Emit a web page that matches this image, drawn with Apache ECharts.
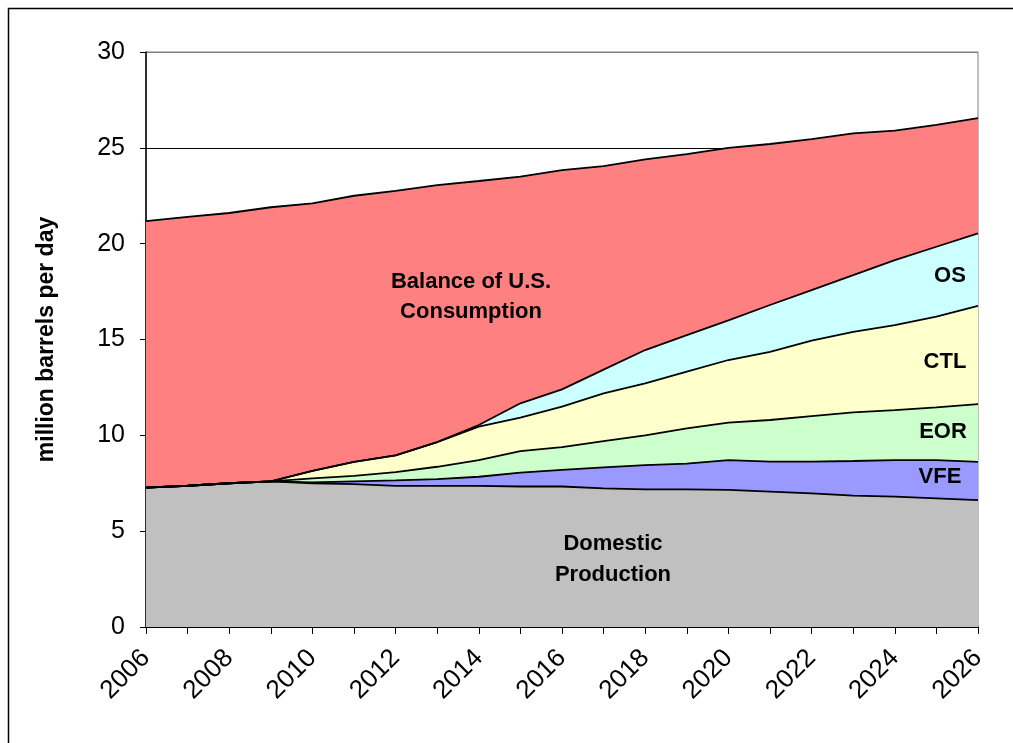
<!DOCTYPE html>
<html>
<head>
<meta charset="utf-8">
<script src="https://cdn.jsdelivr.net/npm/echarts@6/dist/echarts.min.js"></script>
<style>
html,body{margin:0;padding:0;background:#fff;}
#c{width:1013px;height:743px;}
</style>
</head>
<body>
<div id="c"></div>
<script>
const years = ['2006','2007','2008','2009','2010','2011','2012','2013','2014','2015','2016','2017','2018','2019','2020','2021','2022','2023','2024','2025','2026'];
const domestic = [7.27,7.37,7.5,7.6,7.5,7.45,7.36,7.36,7.36,7.33,7.33,7.23,7.18,7.18,7.15,7.06,6.97,6.85,6.8,6.71,6.62];
const vfe      = [0,0,0,0,0.05,0.15,0.29,0.36,0.48,0.72,0.87,1.1,1.27,1.34,1.56,1.57,1.66,1.81,1.91,2.0,2.0];
const eor      = [0,0,0,0,0.2,0.28,0.43,0.64,0.87,1.13,1.18,1.37,1.55,1.84,1.95,2.17,2.37,2.54,2.61,2.75,3.01];
const ctl      = [0,0,0,0,0.4,0.74,0.87,1.29,1.74,1.74,2.12,2.49,2.71,2.96,3.27,3.56,3.94,4.2,4.43,4.73,5.12];
const os       = [0,0,0,0,0,0,0,0,0.09,0.75,0.9,1.24,1.74,1.91,2.07,2.44,2.64,2.96,3.39,3.65,3.79];
const balance  = [13.91,14.03,14.1,14.3,13.95,13.88,13.8,13.4,12.73,11.83,11.44,10.62,9.95,9.44,9.0,8.4,7.87,7.39,6.76,6.36,6.01];
const yTicks = [0,5,10,15,20,25,30];

const FONT = '"Liberation Sans", Arial, sans-serif';
function areaSeries(name, data, color){
  return {
    name, type:'line', stack:'total', data, symbol:'none', smooth:false,
    lineStyle:{color:'#000', width:1.8},
    areaStyle:{color, opacity:1},
    itemStyle:{color},
    emphasis:{disabled:true}
  };
}
function label(text, x, y){
  return {type:'text', x, y, z:100, silent:true,
    style:{text, fontFamily:FONT, fontSize:22, fontWeight:'bold', fill:'#000', align:'center', verticalAlign:'middle'}};
}
const chart = echarts.init(document.getElementById('c'));
chart.setOption({
  animation:false,
  backgroundColor:'#fff',
  grid:{left:146, right:35, top:52, bottom:116, show:true, borderColor:'#808080', borderWidth:1, backgroundColor:'transparent'},
  xAxis:{
    type:'category', data:years, boundaryGap:false,
    axisLine:{lineStyle:{color:'#000', width:1.5}},
    axisTick:{interval:0, length:7, lineStyle:{color:'#000'}},
    axisLabel:{interval:1, rotate:45, fontFamily:FONT, fontSize:26, color:'#000', margin:27},
    splitLine:{show:false}
  },
  yAxis:{
    type:'value', min:yTicks[0], max:yTicks[yTicks.length-1], interval:5,
    name:'million barrels per day', nameLocation:'middle', nameRotate:90, nameGap:88,
    nameTextStyle:{fontFamily:FONT, fontSize:23, fontWeight:'bold', color:'#000'},
    axisLine:{show:true, lineStyle:{color:'#000', width:1.5}},
    axisTick:{show:true, length:6, lineStyle:{color:'#000'}},
    axisLabel:{fontFamily:FONT, fontSize:25, color:'#000', margin:21},
    splitLine:{show:true, lineStyle:{color:['#000','#000','#000','#000','#000','#000','#808080'], width:1}}
  },
  series:[
    areaSeries('Domestic Production', domestic, '#C0C0C0'),
    areaSeries('VFE', vfe, '#9999FF'),
    areaSeries('EOR', eor, '#CCFFCC'),
    areaSeries('CTL', ctl, '#FFFFCC'),
    areaSeries('OS', os, '#CCFFFF'),
    areaSeries('Balance of U.S. Consumption', balance, '#FF8080')
  ],
  graphic:[
    {type:'rect', left:6, top:6, z:100, silent:true, shape:{width:1030, height:760}, style:{fill:'none', stroke:'#000', lineWidth:1.5}},
    label('Balance of U.S.', 471, 282),
    label('Consumption', 471, 312),
    label('OS', 950, 276),
    label('CTL', 945, 362),
    label('EOR', 943, 432),
    label('VFE', 940, 477),
    label('Domestic', 613, 544),
    label('Production', 613, 575)
  ]
});
</script>
</body>
</html>
